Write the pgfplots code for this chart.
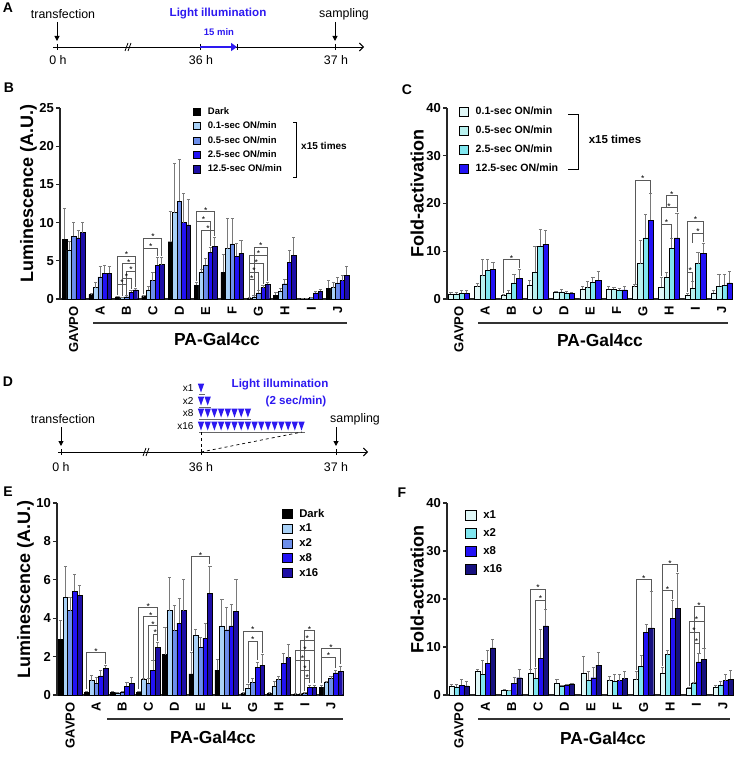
\documentclass[border=0pt]{standalone}
\usepackage{fontspec}
\setmainfont{Liberation Sans}
\usepackage{pgfplots}
\pgfplotsset{compat=1.18}
\usetikzlibrary{arrows.meta}
\newcommand{\fs}[1]{\fontsize{#1}{#1}\selectfont}
\definecolor{cLight}{RGB}{45,25,240}
\definecolor{cLB}{HTML}{A9D1F7}
\definecolor{cMB}{HTML}{6C8EEA}
\definecolor{cBB}{HTML}{2212F5}
\definecolor{cNB}{HTML}{1D0EA6}
\definecolor{cC1}{HTML}{E0F7F7}
\definecolor{cC2}{HTML}{B8F1EF}
\definecolor{cC3}{HTML}{80E6EF}
\definecolor{cN2}{HTML}{16107F}
\definecolor{ebar}{HTML}{7A7A7A}
\tikzset{brk/.style={draw=black!65, line width=0.9pt}}
\newcommand{\br}[5]{\draw[brk] (axis cs:#1,#4) |- (axis cs:#2,#3) node[pos=0.75,above=-2.6pt,inner sep=0.8pt,font=\fs{8.5}]{*} -- (axis cs:#2,#5);}
\pgfplotsset{
  panel/.style={
    scale only axis, axis lines=left, axis line style={-, line width=1.1pt, black!85},
    ymin=0, enlargelimits=false, clip=false,
    xtick={0,...,10}, xticklabels={GAVPO,A,B,C,D,E,F,G,H,I,J},
    xticklabel style={rotate=90, anchor=east, font=\fs{13}\bfseries},
    yticklabel style={font=\fs{13}\bfseries, inner sep=2pt},
    /pgf/number format/assume math mode=true,
    x tick style={draw=none},
    y tick style={line width=1.1pt, black!85},
    tick align=outside, major tick length=4pt,
    ylabel style={font=\fs{18}\bfseries, at={(ticklabel cs:0.55)}},
    ylabel shift=-3pt,
    legend cell align=left,
  },
  mb/.style={fill=#1, draw=black, line width=0.4pt,
    error bars/y dir=plus, error bars/y explicit,
    error bars/error bar style={line width=1pt, draw=ebar},
    error bars/error mark options={rotate=90, mark size=1.6pt, line width=1pt, draw=ebar}},
  leg/.style n args={5}{legend style={at={(#1,#2)}, anchor=north west, draw=none, fill=none,
    inner sep=0pt, font=\fs{#3}\bfseries, row sep=#4, nodes={inner sep=1pt},
    /tikz/every odd column/.append style={column sep=#5}}},
}
\begin{document}
\begin{tikzpicture}
\path[use as bounding box] (0pt,0pt) rectangle (736pt,-757pt);
% ---------------- Panel A ----------------
\begin{scope}[x=1pt,y=-1pt]
\node[font=\fs{14}\bfseries] at (8,8) {A};
\draw[line width=0.9pt,-{Straight Barb[length=4pt,width=8pt]}] (53,47) -- (364,47);
\foreach \x in {57,200,237,335} \draw[line width=0.9pt] (\x,44) -- (\x,50);
\draw[line width=0.8pt] (125,51) -- (128,43); \draw[line width=0.8pt] (128,51) -- (131,43);
\draw[cLight, line width=2.6pt, -{Triangle[length=6pt,width=8pt]}] (200,47) -- (237,47);
\draw[line width=1pt,-{Triangle[length=5pt,width=5pt]}] (57,22) -- (57,41);
\draw[line width=1pt,-{Triangle[length=5pt,width=5pt]}] (335,22) -- (335,41);
\node[font=\fs{12.4}] at (63,14) {transfection};
\node[font=\fs{11.6}\bfseries, text=cLight] at (218,14) {Light illumination};
\node[font=\fs{9.5}\bfseries, text=cLight] at (219,32) {15 min};
\node[font=\fs{12.4}] at (344,14) {sampling};
\node[font=\fs{12.4}] at (58,60) {0 h};
\node[font=\fs{12.4}] at (201,60) {36 h};
\node[font=\fs{12.4}] at (336,60) {37 h};
% ---------------- Panel D ----------------
\node[font=\fs{14}\bfseries] at (8,382) {D};
\draw[line width=0.9pt,-{Straight Barb[length=4pt,width=8pt]}] (58,452) -- (368,452);
\foreach \x in {61,201,336} \draw[line width=0.9pt] (\x,449) -- (\x,455);
\draw[line width=0.8pt] (143,456) -- (146,448); \draw[line width=0.8pt] (146,456) -- (149,448);
\draw[line width=1pt,-{Triangle[length=5pt,width=5pt]}] (61,427) -- (61,446);
\draw[line width=1pt,-{Triangle[length=5pt,width=5pt]}] (336,427) -- (336,446);
\node[font=\fs{12.4}] at (63,419) {transfection};
\node[font=\fs{12.4}] at (355,419) {sampling};
\node[font=\fs{12.4}] at (61,467) {0 h};
\node[font=\fs{12.4}] at (201,467) {36 h};
\node[font=\fs{12.4}] at (336,467) {37 h};
\foreach \yc/\n/\lab in {388/1/x1, 401/2/x2, 413/8/x8, 426/16/x16}{
  \node[anchor=east, font=\fs{10}] at (197,\yc) {\lab};
  \foreach \i in {1,...,\n}{
    \fill[cLight] ({201+6.7*(\i-1)-3.2},\yc-4.5) -- ({201+6.7*(\i-1)+3.2},\yc-4.5) -- ({201+6.7*(\i-1)},\yc+4.5) -- cycle;
  }
  \draw[black!60, line width=0.8pt] (199,\yc+6) -- ({201+6.7*(\n-1)+3.5},\yc+6);
}
\draw[dashed, line width=0.7pt] (201,432) -- (201,452);
\draw[dashed, line width=0.7pt] (201,452) -- (302,432);
\node[font=\fs{11.6}\bfseries, text=cLight] at (280,385) {Light illumination};
\node[font=\fs{11.6}\bfseries, text=cLight] at (296,401) {(2 sec/min)};
% panel letters
\node[font=\fs{14}\bfseries] at (9,88) {B};
\node[font=\fs{14}\bfseries] at (407,90) {C};
\node[font=\fs{14}\bfseries] at (8,492) {E};
\node[font=\fs{14}\bfseries] at (402,493) {F};
% group lines
\draw[line width=1.1pt, black!80] (93,323) -- (347,323);
\node[font=\fs{17.4}\bfseries] at (217,339) {PA-Gal4cc};
\draw[line width=1.1pt, black!80] (478,323) -- (728,323);
\node[font=\fs{17.4}\bfseries] at (600,340) {PA-Gal4cc};
\draw[line width=1.1pt, black!80] (107,719) -- (343,719);
\node[font=\fs{17.4}\bfseries] at (213,737) {PA-Gal4cc};
\draw[line width=1.1pt, black!80] (478,719) -- (730,719);
\node[font=\fs{17.4}\bfseries] at (603,738) {PA-Gal4cc};
% legend brackets
\draw[line width=0.9pt] (293,122) -- (296,122) -- (296,177) -- (293,177);
\node[font=\fs{10}\bfseries] at (324,146) {x15 times};
\draw[line width=0.9pt] (568,114) -- (578,114) -- (578,169) -- (568,169);
\node[font=\fs{11.5}\bfseries] at (615,139) {x15 times};
\end{scope}
% ---------------- Panel B ----------------
\begin{axis}[panel, at={(60pt,-299pt)}, anchor=south west, width=288pt, height=191pt,
  xmin=-0.52, xmax=10.39, ymax=25, ytick={0,5,...,25}, ybar, bar width=0.17,
  ylabel={Luminescence (A.U.)},
  leg={0.462}{1.009}{9.5}{4pt}{6pt},
  legend image code/.code={\draw[#1,draw=black,line width=0.5pt] (0pt,-3.6pt) rectangle (7.2pt,3.6pt);}]
\addplot[mb=black, bar shift=-0.34] coordinates {(0,7.8)+-(0,4.1) (1,0.6)+-(0,0.1) (2,0.3)+-(0,0.05) (3,0.4)+-(0,0.05) (4,7.5)+-(0,3.9) (5,1.8)+-(0,0.3) (6,3.5)+-(0,2.3) (7,0.1)+-(0,0.05) (8,0.5)+-(0,0.3) (9,0.05)+-(0,0.02) (10,1.4)+-(0,1.0)};
\addplot[mb=cLB, bar shift=-0.17] coordinates {(0,6.4)+-(0,1.1) (1,1.5)+-(0,0.6) (2,0.2)+-(0,0.05) (3,1.2)+-(0,0.4) (4,11.3)+-(0,6.4) (5,3.5)+-(0,0.3) (6,6.6)+-(0,3.9) (7,0.3)+-(0,0.1) (8,1.0)+-(0,0.4) (9,0.05)+-(0,0.02) (10,1.5)+-(0,0.7)};
\addplot[mb=cMB, bar shift=0] coordinates {(0,8.2)+-(0,1.8) (1,2.9)+-(0,1.4) (2,0.3)+-(0,0.1) (3,2.4)+-(0,1.1) (4,12.8)+-(0,5.5) (5,4.4)+-(0,0.9) (6,7.2)+-(0,3.4) (7,0.8)+-(0,0.3) (8,2.0)+-(0,0.6) (9,0.2)+-(0,0.05) (10,2.1)+-(0,0.7)};
\addplot[mb=cBB, bar shift=0.17] coordinates {(0,8.0)+-(0,1.0) (1,3.4)+-(0,1.0) (2,0.9)+-(0,0.2) (3,4.4)+-(0,1.0) (4,10.0)+-(0,3.8) (5,6.1)+-(0,0.7) (6,5.6)+-(0,1.7) (7,1.5)+-(0,0.3) (8,4.8)+-(0,1.6) (9,0.8)+-(0,0.2) (10,2.4)+-(0,0.7)};
\addplot[mb=cNB, bar shift=0.34] coordinates {(0,8.7)+-(0,1.3) (1,3.4)+-(0,0.9) (2,1.2)+-(0,0.2) (3,4.5)+-(0,0.9) (4,9.7)+-(0,3.3) (5,6.9)+-(0,1.2) (6,6.0)+-(0,1.7) (7,1.9)+-(0,0.2) (8,5.7)+-(0,2.4) (9,1.0)+-(0,0.2) (10,3.1)+-(0,1.1)};
\legend{Dark, 0.1-sec ON/min, 0.5-sec ON/min, 2.5-sec ON/min, 12.5-sec ON/min}
\br{1.66}{2.34}{5.6}{0.5}{1.6}
\br{1.83}{2.34}{4.6}{0.4}{1.6}
\br{2.0}{2.34}{3.6}{0.5}{1.6}
\br{1.83}{2.17}{2.7}{0.4}{1.3}
\br{1.66}{2.0}{1.9}{0.5}{0.6}
\br{2.66}{3.34}{7.9}{0.6}{5.6}
\br{2.66}{3.17}{6.6}{0.6}{5.6}
\br{4.66}{5.34}{11.4}{2.3}{8.3}
\br{4.66}{5.17}{10.2}{2.3}{7.0}
\br{4.83}{5.34}{9.0}{3.9}{8.3}
\br{6.83}{7.34}{6.8}{0.5}{2.3}
\br{6.66}{7.34}{5.7}{0.3}{2.3}
\br{6.66}{7.17}{4.6}{0.3}{1.9}
\br{6.66}{7.0}{3.5}{0.3}{1.2}
\br{6.66}{6.83}{2.5}{0.3}{0.5}
\end{axis}
% ---------------- Panel C ----------------
\begin{axis}[panel, at={(447pt,-299pt)}, anchor=south west, width=286pt, height=191pt,
  xmin=-0.45, xmax=10.43, ymax=40, ytick={0,10,...,40}, ybar, bar width=0.2,
  ylabel={Fold-activation},
  leg={0.042}{1.01}{10.6}{7.8pt}{6pt},
  legend image code/.code={\draw[#1,draw=black,line width=0.5pt] (0pt,-4.5pt) rectangle (9pt,4.5pt);}]
\addplot[mb=cC1, bar shift=-0.3] coordinates {(0,1.0)+-(0,0.4) (1,2.6)+-(0,0.6) (2,0.7)+-(0,0.2) (3,2.9)+-(0,1.0) (4,1.4)+-(0,0.2) (5,2.0)+-(0,0.6) (6,2.0)+-(0,0.6) (7,2.6)+-(0,0.4) (8,2.5)+-(0,2.0) (9,0.8)+-(0,0.4) (10,1.3)+-(0,0.5)};
\addplot[mb=cC2, bar shift=-0.1] coordinates {(0,1.1)+-(0,0.3) (1,4.9)+-(0,3.3) (2,1.2)+-(0,0.5) (3,5.6)+-(0,5.3) (4,1.5)+-(0,0.5) (5,2.4)+-(0,1.2) (6,2.0)+-(0,0.4) (7,7.4)+-(0,4.8) (8,4.6)+-(0,0.9) (9,2.3)+-(0,1.3) (10,2.7)+-(0,2.5)};
\addplot[mb=cC3, bar shift=0.1] coordinates {(0,1.2)+-(0,0.5) (1,6.0)+-(0,2.2) (2,3.4)+-(0,1.8) (3,11.1)+-(0,3.4) (4,1.3)+-(0,0.2) (5,3.5)+-(0,1.0) (6,1.8)+-(0,0.5) (7,12.8)+-(0,5.0) (8,10.6)+-(0,2.0) (9,7.4)+-(0,2.4) (10,2.9)+-(0,2.3)};
\addplot[mb=cBB, bar shift=0.3] coordinates {(0,1.2)+-(0,0.6) (1,6.2)+-(0,1.5) (2,4.3)+-(0,1.9) (3,11.5)+-(0,2.8) (4,1.2)+-(0,0.2) (5,3.9)+-(0,1.9) (6,1.9)+-(0,0.8) (7,16.5)+-(0,5.5) (8,12.8)+-(0,5.2) (9,9.6)+-(0,2.1) (10,3.4)+-(0,2.4)};
\legend{0.1-sec ON/min, 0.5-sec ON/min, 2.5-sec ON/min, 12.5-sec ON/min}
\br{1.7}{2.3}{8.2}{1.2}{6.5}
\br{6.7}{7.3}{24.8}{3.2}{22.2}
\br{7.9}{8.3}{21.6}{19.1}{18.2}
\br{7.7}{8.3}{19.1}{4.8}{18.2}
\br{7.7}{8.1}{15.7}{4.8}{12.8}
\br{8.7}{9.3}{16.2}{1.5}{11.9}
\br{8.9}{9.3}{13.8}{11.8}{11.9}
\br{8.7}{8.9}{5.6}{1.5}{3.8}
\end{axis}
% ---------------- Panel E ----------------
\begin{axis}[panel, at={(57pt,-695pt)}, anchor=south west, width=286pt, height=192pt,
  xmin=-0.5, xmax=10.46, ymax=10, ytick={0,2,...,10}, ybar, bar width=0.18,
  ylabel={Luminescence (A.U.)},
  leg={0.787}{0.974}{11.3}{3.3pt}{6pt},
  legend image code/.code={\draw[#1,draw=black,line width=0.5pt] (0pt,-4.6pt) rectangle (9.5pt,4.6pt);}]
\addplot[mb=black, bar shift=-0.36] coordinates {(0,2.9)+-(0,1.0) (1,0.15)+-(0,0.05) (2,0.15)+-(0,0.05) (3,0.15)+-(0,0.05) (4,2.1)+-(0,1.4) (5,1.1)+-(0,1.1) (6,1.3)+-(0,0.55) (7,0.1)+-(0,0.03) (8,0.1)+-(0,0.03) (9,0.05)+-(0,0.02) (10,0.4)+-(0,0.1)};
\addplot[mb=cLB, bar shift=-0.18] coordinates {(0,5.1)+-(0,1.6) (1,0.75)+-(0,0.25) (2,0.12)+-(0,0.03) (3,0.8)+-(0,0.05) (4,4.4)+-(0,1.7) (5,3.1)+-(0,0.3) (6,3.6)+-(0,1.35) (7,0.35)+-(0,0.2) (8,0.45)+-(0,0.25) (9,0.05)+-(0,0.02) (10,0.65)+-(0,0.05)};
\addplot[mb=cMB, bar shift=0] coordinates {(0,4.4)+-(0,0.7) (1,0.6)+-(0,0.3) (2,0.15)+-(0,0.05) (3,0.6)+-(0,0.25) (4,3.35)+-(0,1.3) (5,2.5)+-(0,0.5) (6,3.4)+-(0,1.15) (7,0.65)+-(0,0.2) (8,0.8)+-(0,0.15) (9,0.1)+-(0,0.03) (10,0.85)+-(0,0.1)};
\addplot[mb=cBB, bar shift=0.18] coordinates {(0,5.4)+-(0,0.9) (1,1.0)+-(0,0.3) (2,0.45)+-(0,0.2) (3,1.3)+-(0,0.5) (4,3.75)+-(0,1.3) (5,2.95)+-(0,0.75) (6,3.6)+-(0,1.1) (7,1.45)+-(0,0.25) (8,1.65)+-(0,0.5) (9,0.4)+-(0,0.1) (10,1.15)+-(0,0.15)};
\addplot[mb=cNB, bar shift=0.36] coordinates {(0,5.2)+-(0,0.5) (1,1.4)+-(0,0.15) (2,0.6)+-(0,0.3) (3,2.5)+-(0,0.25) (4,4.4)+-(0,1.6) (5,5.3)+-(0,1.4) (6,4.35)+-(0,1.65) (7,1.55)+-(0,0.55) (8,1.95)+-(0,0.7) (9,0.4)+-(0,0.1) (10,1.25)+-(0,0.25)};
\legend{Dark, x1, x2, x8, x16}
\br{0.64}{1.36}{2.2}{0.3}{1.6}
\br{2.64}{3.36}{4.54}{0.3}{2.8}
\br{2.82}{3.36}{4.07}{0.9}{2.8}
\br{3.0}{3.36}{3.6}{0.9}{2.8}
\br{3.18}{3.36}{3.15}{1.8}{2.8}
\br{4.64}{5.36}{7.2}{2.3}{6.8}
\br{6.64}{7.36}{3.3}{0.2}{2.2}
\br{6.82}{7.18}{2.8}{0.6}{1.8}
\br{9.0}{9.36}{3.35}{0.2}{0.6}
\br{8.82}{9.36}{2.85}{0.2}{0.6}
\br{8.64}{9.36}{2.3}{0.1}{0.6}
\br{8.64}{9.18}{1.8}{0.1}{0.6}
\br{8.82}{9.18}{1.3}{0.1}{0.6}
\br{9.0}{9.18}{0.85}{0.2}{0.6}
\br{9.64}{10.36}{2.4}{0.6}{1.6}
\br{9.64}{10.18}{1.95}{0.6}{1.4}
\end{axis}
% ---------------- Panel F ----------------
\begin{axis}[panel, at={(447pt,-695pt)}, anchor=south west, width=283pt, height=192pt,
  xmin=-0.45, xmax=10.27, ymax=40, ytick={0,10,...,40}, ybar, bar width=0.19,
  ylabel={Fold-activation},
  leg={0.064}{0.969}{11.4}{6.8pt}{6pt},
  legend image code/.code={\draw[#1,draw=black,line width=0.5pt] (0pt,-5pt) rectangle (10.5pt,5pt);}]
\addplot[mb=cC1, bar shift=-0.285] coordinates {(0,1.8)+-(0,0.4) (1,5.0)+-(0,0.4) (2,1.0)+-(0,0.2) (3,4.6)+-(0,0.7) (4,2.4)+-(0,0.8) (5,4.6)+-(0,3.4) (6,3.0)+-(0,0.8) (7,3.2)+-(0,1.7) (8,4.5)+-(0,1.3) (9,1.4)+-(0,0.2) (10,1.6)+-(0,0.4)};
\addplot[mb=cC3, bar shift=-0.095] coordinates {(0,1.7)+-(0,0.4) (1,4.3)+-(0,2.9) (2,0.9)+-(0,0.1) (3,3.5)+-(0,2.1) (4,1.8)+-(0,0.2) (5,3.1)+-(0,1.8) (6,2.9)+-(0,1.4) (7,6.0)+-(0,2.2) (8,8.4)+-(0,0.8) (9,2.5)+-(0,0.1) (10,2.1)+-(0,0.7)};
\addplot[mb=cBB, bar shift=0.095] coordinates {(0,2.0)+-(0,1.2) (1,6.6)+-(0,2.6) (2,2.4)+-(0,1.3) (3,7.7)+-(0,6.0) (4,2.0)+-(0,0.2) (5,3.6)+-(0,2.2) (6,3.0)+-(0,1.2) (7,13.1)+-(0,1.5) (8,16.0)+-(0,3.7) (9,6.9)+-(0,1.7) (10,3.0)+-(0,1.3)};
\addplot[mb=cN2, bar shift=0.285] coordinates {(0,1.9)+-(0,0.9) (1,9.8)+-(0,1.7) (2,3.6)+-(0,1.7) (3,14.4)+-(0,3.4) (4,2.3)+-(0,0.1) (5,6.2)+-(0,2.7) (6,3.4)+-(0,1.5) (7,14.0)+-(0,7.5) (8,18.1)+-(0,7.3) (9,7.4)+-(0,2.2) (10,3.3)+-(0,1.8)};
\legend{x1, x2, x8, x16}
\br{2.715}{3.285}{22.0}{5.5}{18.0}
\br{2.905}{3.285}{19.8}{5.8}{18.0}
\br{6.715}{7.285}{24.0}{5.2}{21.7}
\br{7.715}{8.285}{27.1}{6.0}{25.6}
\br{7.715}{8.095}{21.7}{6.0}{19.9}
\br{8.905}{9.285}{18.4}{3.0}{9.8}
\br{8.715}{9.285}{15.4}{1.8}{9.8}
\br{8.715}{9.095}{13.0}{1.8}{8.8}
\br{8.905}{9.095}{10.7}{2.8}{8.8}
\end{axis}
\end{tikzpicture}
\end{document}
